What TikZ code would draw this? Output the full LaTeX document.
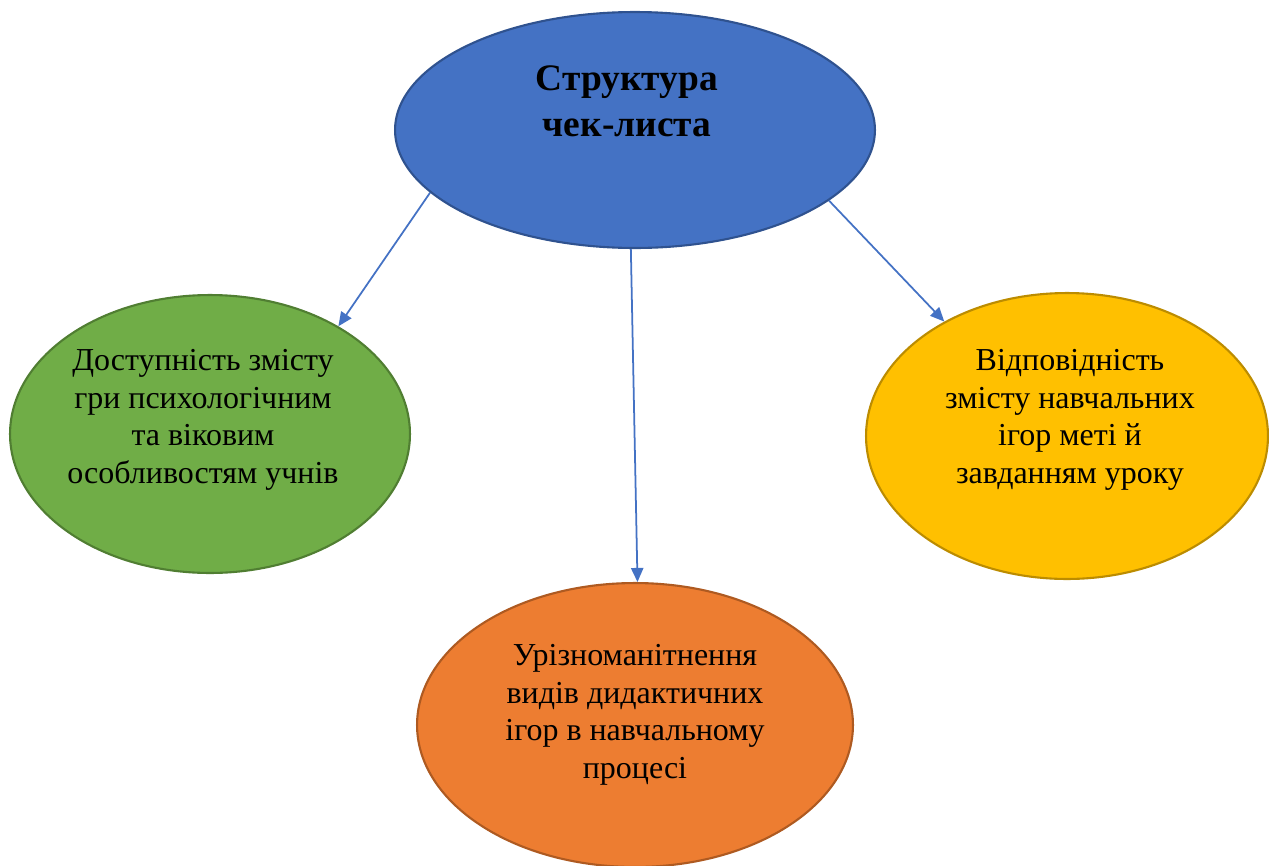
\documentclass[tikz,border=0pt]{standalone}
\usepackage{fontspec}
\setmainfont{Liberation Serif}
\usepackage{tikz}
\usetikzlibrary{shapes.geometric,arrows.meta}
\definecolor{blueF}{HTML}{4472C4}
\definecolor{blueD}{HTML}{2F528F}
\definecolor{greenF}{HTML}{70AD47}
\definecolor{greenD}{HTML}{507E32}
\definecolor{yellowF}{HTML}{FFC000}
\definecolor{yellowD}{HTML}{BC8C00}
\definecolor{orangeF}{HTML}{ED7D31}
\definecolor{orangeD}{HTML}{AE5A21}
\tikzset{
  oval/.style={ellipse,inner sep=0pt,line width=1.2pt},
  txt/.style={align=center,inner sep=0pt,font=\fontsize{18.2}{21.4}\selectfont},
  link/.style={draw=blueF,line width=1pt,-{Triangle[width=7pt,length=8pt]}}
}
\begin{document}
\begin{tikzpicture}[x=0.02cm,y=-0.02cm]
\useasboundingbox (0,0) rectangle (1269,866);
\node[oval,fill=blueF,draw=blueD,minimum width=9.6cm,minimum height=4.72cm](top) at (635,130) {};
\node[oval,fill=greenF,draw=greenD,minimum width=8cm,minimum height=5.56cm](left) at (210,434) {};
\node[oval,fill=yellowF,draw=yellowD,minimum width=8.04cm,minimum height=5.72cm](right) at (1067,436) {};
\node[oval,fill=orangeF,draw=orangeD,minimum width=8.72cm,minimum height=5.68cm](bottom) at (635,725) {};

%texts
\node[txt,font=\bfseries\fontsize{21.3}{26}\selectfont](topT) at (627,101) {Структура\\чек-листа};
\node[txt](leftT) at (203,420) {Доступність змісту\\гри психологічним\\та віковим\\особливостям учнів};
\node[txt](rightT) at (1070,420) {Відповідність\\змісту навчальних\\ігор меті й\\завданням уроку};
\node[txt](bottomT) at (635,715) {Урізноманітнення\\видів дидактичних\\ігор в навчальному\\процесі};

%connectors
\draw[link] (top.197.8) -- (left.40.4);
\draw[link] (top.268.6) -- (bottom.89.2);
\draw[link] (top.340.7) -- (right.137.4);
\end{tikzpicture}
\end{document}
